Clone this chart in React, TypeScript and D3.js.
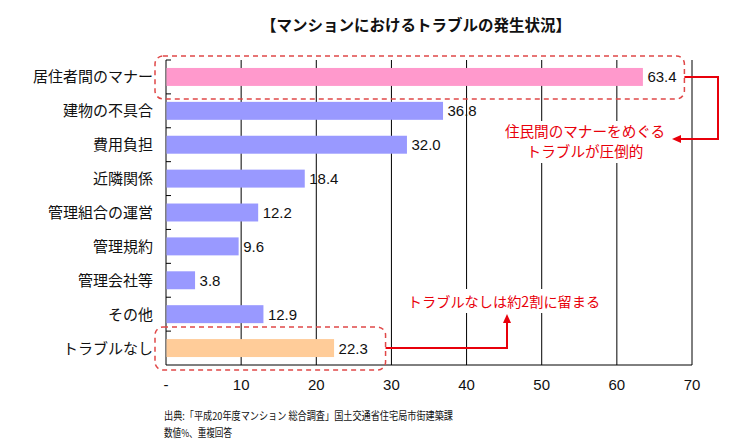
import React from 'react';
import { scaleLinear, scaleBand } from 'd3';

const categories = ['居住者間のマナー', '建物の不具合', '費用負担', '近隣関係', '管理組合の運営', '管理規約', '管理会社等', 'その他', 'トラブルなし'];
const values = [63.4, 36.8, 32.0, 18.4, 12.2, 9.6, 3.8, 12.9, 22.3];
const barColors = ['#ff99cc', '#9999ff', '#9999ff', '#9999ff', '#9999ff', '#9999ff', '#9999ff', '#9999ff', '#ffcc99'];
const ticks = [0, 10, 20, 30, 40, 50, 60, 70];
const tickLabels = ['-', '10', '20', '30', '40', '50', '60', '70'];

const W = 756;
const H = 447;
const margin = { top: 60, right: 64, bottom: 82, left: 166 };
const font = '"Liberation Sans", Arial, "Noto Sans CJK JP", sans-serif';
const jpFont = '"Noto Sans CJK JP", "Liberation Sans", sans-serif';
const red = '#e8000b';
const dashRed = '#e04848';

const App: React.FC = () => {
  const x = scaleLinear().domain([0, 70]).range([margin.left, W - margin.right]);
  const y = scaleBand<string>().domain(categories).range([margin.top, H - margin.bottom]).paddingInner(0.47).paddingOuter(0.235);
  const bottom = H - margin.bottom;
  const step = y.step();
  const bounds = categories.map((_, i) => margin.top + step * i);

  const first = categories[0];
  const last = categories[categories.length - 1];
  const firstMid = (y(first) ?? 0) + y.bandwidth() / 2;
  const lastMid = (y(last) ?? 0) + y.bandwidth() / 2;

  const box1 = { x0: 155, x1: x(values[0]) + 42, y0: firstMid - 21, y1: firstMid + 22 };
  const box2 = { x0: 155, x1: x(values[8]) + 52, y0: lastMid - 21, y1: lastMid + 22 };

  return (
    <div style={{ position: 'absolute', left: 0, top: 0 }}>
      <svg width={W} height={H} style={{ display: 'block', background: '#fff' }}>
        <text x={416} y={31} textAnchor="middle" fontFamily={jpFont} fontWeight="bold" fontSize={15.5} fill="#111">
          【マンションにおけるトラブルの発生状況】
        </text>

        {/* grid */}
        {ticks.slice(1).map(t => (
          <line key={t} x1={x(t)} x2={x(t)} y1={margin.top} y2={bottom} stroke="#000" strokeWidth={1} />
        ))}
        <line x1={x(0)} x2={x(0)} y1={margin.top} y2={bottom} stroke="#000" />
        <line x1={x(0)} x2={x(70)} y1={bottom} y2={bottom} stroke="#000" />
        {bounds.map((b, i) => (
          <line key={i} x1={x(0)} x2={x(0) + 5} y1={b} y2={b} stroke="#000" />
        ))}
        {ticks.map((t, i) => (
          <text key={t} x={x(t)} y={390} textAnchor="middle" fontFamily={font} fontSize={15} fill="#111">
            {tickLabels[i]}
          </text>
        ))}

        {/* bars */}
        {categories.map((c, i) => (
          <g key={c}>
            <rect x={x(0) + 0.5} y={y(c)} width={x(values[i]) - x(0)} height={y.bandwidth()} fill={barColors[i]} />
            <text x={x(values[i]) + 5} y={(y(c) ?? 0) + y.bandwidth() / 2 + 5.5} fontFamily={font} fontSize={15} fill="#111">
              {values[i].toFixed(1)}
            </text>
            <text x={153} y={(y(c) ?? 0) + y.bandwidth() / 2 + 5.5} textAnchor="end" fontFamily={jpFont} fontSize={15} fill="#111">
              {c}
            </text>
          </g>
        ))}

        {/* annotation boxes */}
        {[box1, box2].map((b, i) => (
          <rect key={i} x={b.x0} y={b.y0} width={b.x1 - b.x0} height={b.y1 - b.y0} rx={8} ry={8}
            fill="none" stroke={dashRed} strokeWidth={1.5} strokeDasharray="5,4" />
        ))}

        {/* annotation 1 */}
        <rect x={500} y={121} width={170} height={42} fill="#fff" />
        <text x={585} y={137} textAnchor="middle" fontFamily={jpFont} fontSize={14.6} fill={red}>住民間のマナーをめぐる</text>
        <text x={585} y={157} textAnchor="middle" fontFamily={jpFont} fontSize={14.6} fill={red}>トラブルが圧倒的</text>
        <path d={`M${box1.x1},${firstMid} H718 V139 H680`} fill="none" stroke={red} strokeWidth={2} />
        <path d="M672,139 L681,135 L681,143 Z" fill={red} />

        {/* annotation 2 */}
        <rect x={401} y={289} width={205} height={24} fill="#fff" />
        <text x={504} y={307} textAnchor="middle" fontFamily={jpFont} fontSize={14.2} fill={red}>トラブルなしは約2割に留まる</text>
        <path d={`M${box2.x1},${lastMid} H507 V322`} fill="none" stroke={red} strokeWidth={2} />
        <path d="M507,314 L503,323 L511,323 Z" fill={red} />

        {/* source */}
        <text x={164} y={420} fontFamily={jpFont} fontSize={11} fill="#111" textLength={289} lengthAdjust="spacingAndGlyphs">出典:「平成20年度マンション 総合調査」国土交通省住宅局市街建築課</text>
        <text x={164} y={437} fontFamily={jpFont} fontSize={11} fill="#111" textLength={68} lengthAdjust="spacingAndGlyphs">数値%、重複回答</text>
      </svg>
    </div>
  );
};

export default App;
